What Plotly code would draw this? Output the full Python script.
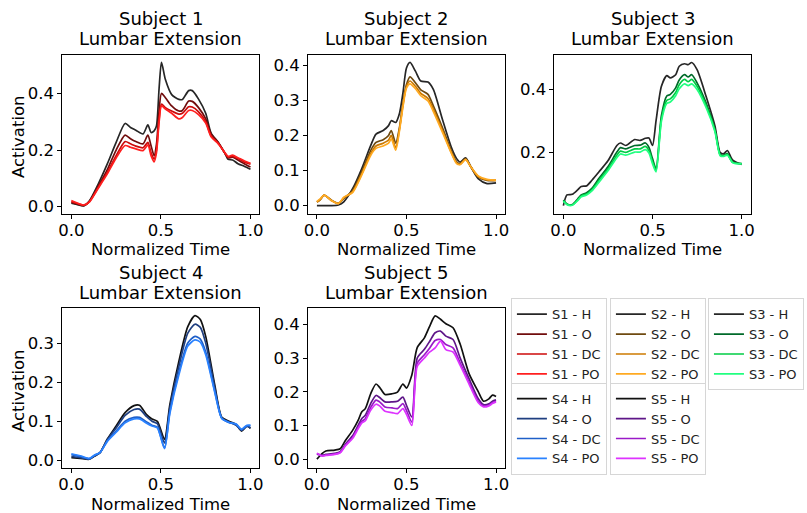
import plotly.graph_objects as go

W, H = 807, 513

# ---------------- data ----------------
conditions = ["H", "O", "DC", "PO"]

x1 = [0, 0.03, 0.07, 0.1, 0.15, 0.2, 0.25, 0.3, 0.33, 0.36, 0.4, 0.427, 0.445, 0.462, 0.475, 0.49, 0.503, 0.525, 0.56, 0.6, 0.62, 0.655, 0.675, 0.71, 0.75, 0.78, 0.82, 0.856, 0.875, 0.9, 0.93, 0.965, 1.0]
s1_H = [0.012, 0.008, 0.003, 0.02, 0.08, 0.15, 0.227, 0.294, 0.28, 0.27, 0.257, 0.289, 0.262, 0.268, 0.285, 0.42, 0.51, 0.449, 0.396, 0.379, 0.379, 0.41, 0.41, 0.38, 0.33, 0.26, 0.227, 0.19, 0.167, 0.165, 0.152, 0.143, 0.132]
s1_O = [0.015, 0.01, 0.004, 0.018, 0.072, 0.13, 0.2, 0.253, 0.24, 0.23, 0.222, 0.253, 0.215, 0.18, 0.22, 0.34, 0.40, 0.385, 0.356, 0.338, 0.34, 0.373, 0.372, 0.35, 0.31, 0.257, 0.227, 0.19, 0.172, 0.175, 0.165, 0.152, 0.14]
s1_DC = [0.018, 0.012, 0.005, 0.017, 0.068, 0.12, 0.18, 0.23, 0.222, 0.214, 0.208, 0.227, 0.19, 0.168, 0.2, 0.31, 0.362, 0.35, 0.338, 0.327, 0.33, 0.353, 0.352, 0.335, 0.3, 0.25, 0.225, 0.19, 0.175, 0.178, 0.17, 0.158, 0.15]
s1_PO = [0.022, 0.014, 0.006, 0.016, 0.065, 0.115, 0.172, 0.216, 0.21, 0.204, 0.198, 0.218, 0.18, 0.158, 0.19, 0.30, 0.356, 0.345, 0.33, 0.31, 0.315, 0.34, 0.34, 0.325, 0.295, 0.247, 0.222, 0.192, 0.178, 0.182, 0.173, 0.162, 0.153]

x2 = [0, 0.02, 0.04, 0.08, 0.12, 0.15, 0.2, 0.25, 0.3, 0.33, 0.37, 0.4, 0.415, 0.44, 0.46, 0.48, 0.5, 0.52, 0.55, 0.58, 0.62, 0.65, 0.7, 0.75, 0.78, 0.8, 0.83, 0.86, 0.9, 0.95, 1.0]
s2_H = [0.0, 0.0, 0.0, 0.0, 0.002, 0.011, 0.049, 0.105, 0.171, 0.204, 0.214, 0.228, 0.242, 0.237, 0.261, 0.32, 0.392, 0.408, 0.383, 0.355, 0.352, 0.331, 0.247, 0.167, 0.134, 0.124, 0.136, 0.11, 0.077, 0.063, 0.065]
s2_O = [0.01, 0.018, 0.03, 0.016, 0.007, 0.02, 0.044, 0.096, 0.157, 0.18, 0.188, 0.2, 0.214, 0.178, 0.22, 0.29, 0.345, 0.367, 0.35, 0.33, 0.317, 0.284, 0.223, 0.157, 0.125, 0.12, 0.134, 0.11, 0.082, 0.072, 0.072]
s2_DC = [0.01, 0.018, 0.03, 0.015, 0.006, 0.022, 0.04, 0.09, 0.148, 0.17, 0.178, 0.187, 0.2, 0.165, 0.215, 0.285, 0.34, 0.355, 0.34, 0.32, 0.305, 0.275, 0.215, 0.152, 0.122, 0.118, 0.132, 0.11, 0.083, 0.073, 0.072]
s2_PO = [0.012, 0.02, 0.03, 0.015, 0.006, 0.024, 0.038, 0.087, 0.143, 0.163, 0.17, 0.178, 0.19, 0.158, 0.21, 0.28, 0.335, 0.347, 0.333, 0.313, 0.298, 0.268, 0.21, 0.15, 0.12, 0.117, 0.131, 0.11, 0.085, 0.075, 0.073]

x3 = [0, 0.02, 0.05, 0.08, 0.1, 0.13, 0.16, 0.2, 0.25, 0.3, 0.32, 0.35, 0.4, 0.43, 0.46, 0.48, 0.5, 0.52, 0.55, 0.58, 0.6, 0.63, 0.65, 0.68, 0.7, 0.72, 0.75, 0.8, 0.85, 0.88, 0.9, 0.92, 0.95, 1.0]
s3_H = [0.029, 0.063, 0.065, 0.079, 0.09, 0.092, 0.11, 0.137, 0.172, 0.221, 0.229, 0.221, 0.24, 0.237, 0.244, 0.245, 0.221, 0.3, 0.41, 0.444, 0.437, 0.447, 0.474, 0.482, 0.479, 0.486, 0.463, 0.379, 0.284, 0.198, 0.195, 0.205, 0.174, 0.16]
s3_O = [0.047, 0.034, 0.032, 0.05, 0.063, 0.07, 0.084, 0.116, 0.153, 0.2, 0.214, 0.21, 0.221, 0.222, 0.229, 0.215, 0.179, 0.147, 0.316, 0.379, 0.384, 0.405, 0.43, 0.447, 0.44, 0.447, 0.421, 0.358, 0.274, 0.192, 0.19, 0.195, 0.168, 0.163]
s3_DC = [0.045, 0.033, 0.031, 0.047, 0.06, 0.066, 0.08, 0.11, 0.146, 0.19, 0.203, 0.199, 0.21, 0.21, 0.218, 0.205, 0.17, 0.142, 0.306, 0.365, 0.37, 0.39, 0.415, 0.432, 0.425, 0.432, 0.41, 0.35, 0.27, 0.19, 0.188, 0.193, 0.167, 0.163]
s3_PO = [0.043, 0.032, 0.03, 0.045, 0.057, 0.063, 0.076, 0.104, 0.14, 0.182, 0.194, 0.19, 0.2, 0.2, 0.208, 0.197, 0.163, 0.137, 0.298, 0.355, 0.36, 0.38, 0.402, 0.418, 0.412, 0.418, 0.4, 0.343, 0.266, 0.188, 0.186, 0.19, 0.166, 0.162]

x4 = [0, 0.05, 0.1, 0.13, 0.16, 0.2, 0.25, 0.3, 0.35, 0.38, 0.42, 0.45, 0.48, 0.52, 0.55, 0.6, 0.65, 0.69, 0.72, 0.75, 0.8, 0.84, 0.88, 0.92, 0.95, 0.98, 1.0]
s4_H = [0.007, 0.005, 0.003, 0.011, 0.02, 0.054, 0.088, 0.122, 0.14, 0.141, 0.117, 0.106, 0.1, 0.054, 0.143, 0.253, 0.342, 0.37, 0.36, 0.317, 0.194, 0.11, 0.1, 0.092, 0.075, 0.088, 0.082]
s4_O = [0.01, 0.007, 0.004, 0.012, 0.02, 0.052, 0.083, 0.115, 0.13, 0.131, 0.112, 0.1, 0.094, 0.045, 0.135, 0.24, 0.325, 0.348, 0.34, 0.3, 0.188, 0.108, 0.098, 0.09, 0.077, 0.087, 0.083]
s4_DC = [0.015, 0.01, 0.004, 0.013, 0.02, 0.05, 0.075, 0.1, 0.11, 0.11, 0.098, 0.09, 0.085, 0.032, 0.125, 0.225, 0.3, 0.317, 0.31, 0.277, 0.178, 0.108, 0.097, 0.092, 0.078, 0.088, 0.088]
s4_PO = [0.017, 0.012, 0.005, 0.014, 0.02, 0.048, 0.072, 0.096, 0.106, 0.106, 0.095, 0.088, 0.083, 0.03, 0.12, 0.218, 0.292, 0.308, 0.302, 0.27, 0.175, 0.107, 0.097, 0.093, 0.08, 0.09, 0.09]

x5 = [0, 0.03, 0.05, 0.1, 0.13, 0.16, 0.2, 0.23, 0.25, 0.27, 0.3, 0.33, 0.35, 0.38, 0.42, 0.45, 0.48, 0.5, 0.53, 0.56, 0.6, 0.63, 0.66, 0.69, 0.72, 0.76, 0.8, 0.85, 0.9, 0.93, 0.96, 0.98, 1.0]
s5_H = [0.0, 0.017, 0.024, 0.027, 0.031, 0.056, 0.086, 0.115, 0.14, 0.15, 0.194, 0.223, 0.213, 0.192, 0.194, 0.199, 0.223, 0.211, 0.25, 0.331, 0.36, 0.395, 0.425, 0.415, 0.402, 0.39, 0.341, 0.253, 0.201, 0.172, 0.179, 0.19, 0.186]
s5_O = [0.015, 0.012, 0.014, 0.017, 0.022, 0.045, 0.07, 0.1, 0.12, 0.13, 0.165, 0.189, 0.183, 0.17, 0.17, 0.172, 0.184, 0.16, 0.125, 0.3, 0.326, 0.35, 0.375, 0.38, 0.365, 0.355, 0.3, 0.238, 0.18, 0.162, 0.164, 0.172, 0.176]
s5_DC = [0.017, 0.01, 0.012, 0.015, 0.02, 0.042, 0.065, 0.094, 0.112, 0.12, 0.153, 0.175, 0.17, 0.155, 0.152, 0.15, 0.165, 0.145, 0.11, 0.285, 0.31, 0.33, 0.352, 0.355, 0.34, 0.33, 0.285, 0.228, 0.172, 0.158, 0.16, 0.168, 0.172]
s5_PO = [0.018, 0.009, 0.011, 0.014, 0.019, 0.04, 0.062, 0.09, 0.107, 0.114, 0.145, 0.163, 0.158, 0.142, 0.138, 0.135, 0.15, 0.133, 0.1, 0.275, 0.3, 0.318, 0.33, 0.35, 0.325, 0.318, 0.278, 0.222, 0.168, 0.155, 0.158, 0.165, 0.17]

subjects = [
    (x1, [s1_H, s1_O, s1_DC, s1_PO]),
    (x2, [s2_H, s2_O, s2_DC, s2_PO]),
    (x3, [s3_H, s3_O, s3_DC, s3_PO]),
    (x4, [s4_H, s4_O, s4_DC, s4_PO]),
    (x5, [s5_H, s5_O, s5_DC, s5_PO]),
]

colors = [
    ["#262626", "#700c0c", "#cc0a0a", "#ff1f1f"],
    ["#262626", "#6e4a10", "#cc7a00", "#ffaa22"],
    ["#262626", "#006a2a", "#00cc44", "#22ff80"],
    ["#111111", "#1f3f80", "#1f5fc8", "#2a82ff"],
    ["#111111", "#5e1688", "#9a1ac8", "#dd33ff"],
]

y_ranges = [[-0.025, 0.537], [-0.023, 0.43], [0.003, 0.511], [-0.02, 0.389], [-0.027, 0.448]]
y_ticks = [[0.0, 0.2, 0.4], [0.0, 0.1, 0.2, 0.3, 0.4], [0.2, 0.4], [0.0, 0.1, 0.2, 0.3], [0.0, 0.1, 0.2, 0.3, 0.4]]
x_ticks = [0.0, 0.5, 1.0]

# ---------------- layout helpers (pixel boxes) ----------------
frames = [(59, 258, 55, 215), (307, 506, 55, 215), (556, 754, 55, 215),
          (59, 258, 310, 471), (307, 506, 310, 471)]

def px(x):
    return x / W

def py(y):
    return 1 - y / H

fig = go.Figure()
FONT = "DejaVu Sans"

legend_pos = [(512, 300), (612, 300), (711, 300), (512, 385), (612, 385)]

for i, (xs, series) in enumerate(subjects):
    ax = "" if i == 0 else str(i + 1)
    lg = "legend" if i == 0 else "legend%d" % (i + 1)
    for j, ys in enumerate(series):
        fig.add_trace(go.Scatter(
            x=xs, y=ys, mode="lines",
            line=dict(color=colors[i][j], width=1.7, shape="spline", smoothing=0.7),
            name="S%d - %s" % (i + 1, conditions[j]),
            xaxis="x" + ax, yaxis="y" + ax, legend=lg,
        ))
    l, r, t, b = frames[i]
    axis_common = dict(showline=True, mirror=True, linecolor="black", linewidth=1,
                       ticks="outside", ticklen=4, tickwidth=1, tickcolor="black",
                       showgrid=False, zeroline=False,
                       tickfont=dict(family=FONT, size=16.5, color="black"))
    fig.layout["xaxis" + ax] = dict(domain=[px(l), px(r)], range=[-0.05, 1.05],
                                   tickvals=x_ticks, ticktext=["%.1f" % v for v in x_ticks],
                                   ticklabelstandoff=-3,
                                   anchor="y" + ax, **axis_common)
    fig.layout["yaxis" + ax] = dict(domain=[py(b), py(t)], range=y_ranges[i],
                                   tickvals=y_ticks[i], ticktext=["%.1f" % v for v in y_ticks[i]],
                                   anchor="x" + ax, **axis_common)
    cx = (l + r) / 2
    fig.add_annotation(x=px(cx), y=py(t - 36), xref="paper", yref="paper",
                       text="Subject %d" % (i + 1), showarrow=False,
                       xanchor="center", yanchor="middle",
                       font=dict(family=FONT, size=18, color="black"))
    fig.add_annotation(x=px(cx), y=py(t - 16), xref="paper", yref="paper",
                       text="Lumbar Extension", showarrow=False,
                       xanchor="center", yanchor="middle",
                       font=dict(family=FONT, size=18, color="black"))
    fig.add_annotation(x=px(cx), y=py(b + 36), xref="paper", yref="paper",
                       text="Normalized Time", showarrow=False,
                       xanchor="center", yanchor="middle",
                       font=dict(family=FONT, size=16.5, color="black"))
    if i in (0, 3):
        fig.add_annotation(x=px(14), y=py((t + b) / 2 + 2), xref="paper", yref="paper",
                           text="Activation", showarrow=False, textangle=-90,
                           xanchor="center", yanchor="middle",
                           font=dict(family=FONT, size=16.5, color="black"))
    lx, ly = legend_pos[i]
    fig.layout[lg] = dict(x=px(lx), y=py(ly), xanchor="left", yanchor="top",
                          bgcolor="white", bordercolor="#d6d6d6", borderwidth=1,
                          font=dict(family=FONT, size=13, color="#222222"),
                          tracegroupgap=0, itemwidth=30)

fig.update_layout(width=W, height=H, margin=dict(l=0, r=0, t=0, b=0),
                  paper_bgcolor="white", plot_bgcolor="white", showlegend=True)

fig.write_html("out.html")
